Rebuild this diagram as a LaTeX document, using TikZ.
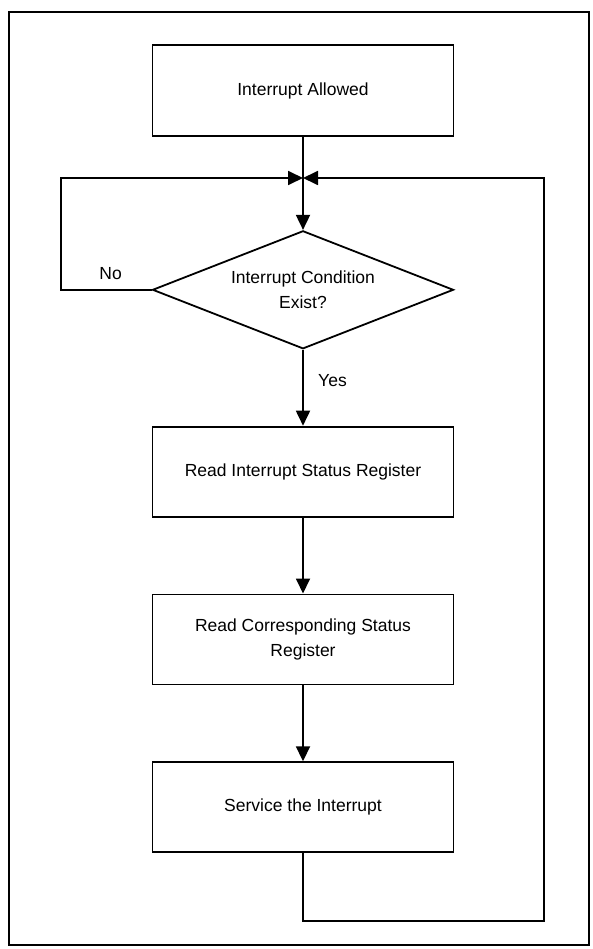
\documentclass[tikz,border=0pt]{standalone}
\usepackage{fontspec}
\setmainfont{Liberation Sans}
\usetikzlibrary{arrows.meta, positioning, shapes.geometric}

\begin{document}
\begin{tikzpicture}[
  x=1pt, y=-1pt,
  font=\fontsize{17.5}{25}\selectfont,
  block/.style = {draw, line width=1.8pt, minimum height=90pt, minimum width=301pt, align=center, inner sep=0pt},
  decision/.style = {draw, diamond, line width=1.8pt, aspect=2.55, minimum width=301pt, minimum height=118pt, align=center, inner sep=0pt},
  arrow/.style = {line width=1.8pt, -{Triangle[length=15pt, width=14pt]}},
  node distance=76pt
]
  \useasboundingbox (0,0) rectangle (592,949);

  % Frame
  \draw[line width=1.8pt] (9,12) rectangle (589,945);

  % Steps
  \node[block, minimum height=91pt] (allowed) at (303,90.5) {Interrupt Allowed};
  \node[decision, below=93pt of allowed] (cond) {Interrupt Condition\\Exist?};
  \node[block, below=of cond] (readisr) {Read Interrupt Status Register};
  \node[block, below=of readisr] (readcsr) {Read Corresponding Status\\Register};
  \node[block, below=of readcsr] (service) {Service the Interrupt};

  % Loop points
  \coordinate (join) at (303,178);
  \coordinate[left=91pt of cond.west] (loopl);
  \coordinate (loopr) at (544,921);

  % Connectors
  \draw[arrow] (allowed.south) -- (cond.north);
  \draw[arrow] (cond.west) -- (loopl) node[pos=0.45, above=6pt] {No} |- (join);
  \draw[arrow] (cond.south) -- (readisr.north) node[pos=0.4, right=11pt] {Yes};
  \draw[arrow] (readisr.south) -- (readcsr.north);
  \draw[arrow] (readcsr.south) -- (service.north);
  \draw[arrow] (service.south) |- (loopr) |- (join);

\end{tikzpicture}
\end{document}
